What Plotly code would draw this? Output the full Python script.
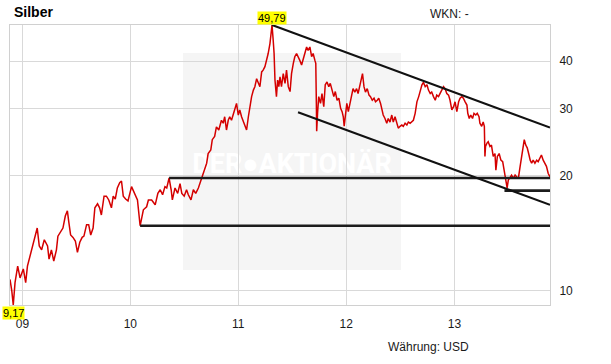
import math
import plotly.graph_objects as go

# ---------------- data ----------------
dates = [
 "2008-11-20","2008-11-26","2008-12-01","2008-12-07","2008-12-16","2008-12-24",
 "2009-01-04","2009-01-12","2009-01-18","2009-01-26","2009-02-03","2009-02-12","2009-02-20","2009-02-27",
 "2009-03-07","2009-03-16","2009-03-27","2009-04-01","2009-04-09","2009-04-17","2009-04-26",
 "2009-05-01","2009-05-10","2009-05-18","2009-05-26","2009-06-02","2009-06-07","2009-06-13","2009-06-21","2009-06-29",
 "2009-07-06","2009-07-14","2009-07-22","2009-07-28","2009-08-06","2009-08-13","2009-08-20","2009-08-28",
 "2009-09-03","2009-09-12","2009-09-19","2009-09-25","2009-10-04","2009-10-12","2009-10-20","2009-10-29",
 "2009-11-04","2009-11-11","2009-11-18","2009-11-26","2009-12-02","2009-12-08","2009-12-16","2009-12-24",
 "2010-01-05","2010-01-15","2010-01-25","2010-02-03","2010-02-10","2010-02-14","2010-02-25",
 "2010-03-03","2010-03-14","2010-03-26","2010-04-04","2010-04-12","2010-04-20","2010-04-28",
 "2010-05-04","2010-05-12","2010-05-19","2010-05-23","2010-06-01","2010-06-10","2010-06-18","2010-06-24",
 "2010-07-02","2010-07-10","2010-07-16","2010-07-25","2010-08-02","2010-08-10","2010-08-19","2010-08-24",
 "2010-09-01","2010-09-10","2010-09-16","2010-09-21","2010-09-30","2010-10-05","2010-10-13","2010-10-19","2010-10-27",
 "2010-11-05","2010-11-11","2010-11-16","2010-11-22","2010-11-28","2010-12-03","2010-12-09","2010-12-20","2010-12-26",
 "2011-01-01","2011-01-06","2011-01-12","2011-01-17","2011-01-23","2011-01-29","2011-02-04","2011-02-09",
 "2011-02-15","2011-02-21","2011-02-26","2011-03-04","2011-03-09","2011-03-15","2011-03-21","2011-03-26",
 "2011-04-01","2011-04-07","2011-04-12","2011-04-18","2011-04-23","2011-04-25","2011-04-29",
 "2011-05-02","2011-05-05","2011-05-08","2011-05-10","2011-05-14","2011-05-18","2011-05-22","2011-05-27",
 "2011-06-02","2011-06-08","2011-06-13","2011-06-19","2011-06-25","2011-06-30","2011-07-06","2011-07-11",
 "2011-07-17","2011-07-23","2011-07-28","2011-08-03","2011-08-09","2011-08-14","2011-08-20","2011-08-25",
 "2011-08-31","2011-09-06","2011-09-11","2011-09-17","2011-09-20","2011-09-22","2011-09-23","2011-09-26",
 "2011-09-30","2011-10-06","2011-10-11","2011-10-17","2011-10-22","2011-10-28","2011-11-03","2011-11-08",
 "2011-11-14","2011-11-20","2011-11-25","2011-12-01","2011-12-07","2011-12-13","2011-12-18","2011-12-22",
 "2011-12-25","2011-12-30","2012-01-03","2012-01-08","2012-01-13","2012-01-19","2012-01-24","2012-01-30",
 "2012-02-05","2012-02-10","2012-02-16","2012-02-21","2012-02-25","2012-03-01","2012-03-06","2012-03-12",
 "2012-03-18","2012-03-23","2012-03-29","2012-04-04","2012-04-09","2012-04-15","2012-04-20","2012-04-26",
 "2012-05-02","2012-05-05","2012-05-11","2012-05-17","2012-05-22","2012-05-28","2012-06-03","2012-06-08",
 "2012-06-14","2012-06-20","2012-06-25","2012-07-01","2012-07-07","2012-07-12","2012-07-18","2012-07-24",
 "2012-07-29","2012-08-04","2012-08-10","2012-08-15","2012-08-21","2012-08-27","2012-09-02","2012-09-07",
 "2012-09-13","2012-09-18","2012-09-24","2012-09-30","2012-10-05","2012-10-11","2012-10-16","2012-10-22",
 "2012-10-28","2012-11-02","2012-11-08","2012-11-13","2012-11-19","2012-11-25","2012-11-30","2012-12-06",
 "2012-12-12","2012-12-17","2012-12-23","2012-12-29","2013-01-03","2013-01-09","2013-01-15","2013-01-20",
 "2013-01-26","2013-01-31","2013-02-06","2013-02-12","2013-02-15","2013-02-20","2013-02-25","2013-03-03",
 "2013-03-08","2013-03-14","2013-03-19","2013-03-25","2013-03-28","2013-04-03","2013-04-08","2013-04-12",
 "2013-04-14","2013-04-16","2013-04-21","2013-04-25","2013-05-01","2013-05-06","2013-05-12","2013-05-18",
 "2013-05-21","2013-05-26","2013-06-01","2013-06-07","2013-06-13","2013-06-18","2013-06-21","2013-06-24",
 "2013-06-28","2013-07-02","2013-07-08","2013-07-13","2013-07-19","2013-07-25","2013-07-30","2013-08-05",
 "2013-08-11","2013-08-16","2013-08-22","2013-08-25","2013-08-30","2013-09-04","2013-09-10","2013-09-14",
 "2013-09-19","2013-09-24","2013-09-30","2013-10-06","2013-10-11","2013-10-17","2013-10-22","2013-10-28",
 "2013-11-03","2013-11-08","2013-11-14","2013-11-20",
]
prices = [
 10.7,10.0,9.17,10.5,11.6,10.8,
 11.4,10.5,11.6,12.3,12.8,13.9,14.6,13.1,
 12.8,13.6,13.1,12.1,12.8,11.95,12.8,
 13.9,14.3,14.6,15.7,16.2,15.1,14.0,13.8,13.5,
 12.6,13.4,13.8,13.9,14.9,14.9,14.0,14.6,
 16.5,16.9,16.5,15.8,17.7,17.7,17.3,16.5,
 17.7,17.4,18.6,19.2,19.4,17.7,17.4,17.2,
 18.75,18.0,17.3,14.8,15.7,16.3,16.6,
 17.3,17.3,16.8,18.0,18.4,17.85,18.75,
 18.6,19.75,18.4,17.3,18.6,18.0,19.1,18.0,
 17.7,18.4,17.85,17.3,18.4,18.0,18.6,19.1,
 19.9,20.7,21.6,22.9,23.4,24.9,25.4,26.9,26.4,
 28.0,27.5,28.6,26.4,28.0,28.6,28.0,29.8,31.0,
 28.9,29.8,28.6,28.0,27.0,26.4,28.6,30.4,
 32.3,33.6,34.3,36.0,35.3,34.3,37.5,37.9,
 38.7,40.2,41.9,44.5,48.2,49.79,45.4,
 41.9,35.7,33.6,32.3,35.7,34.3,36.4,34.3,
 37.1,35.0,37.9,34.3,33.3,37.1,39.5,41.1,
 41.9,41.1,40.2,39.1,40.6,42.3,43.6,42.7,
 43.6,41.1,41.9,40.2,39.5,31.0,26.2,29.2,
 32.3,31.0,32.9,30.4,34.7,35.3,34.3,35.0,
 33.3,32.3,33.3,31.6,32.0,30.1,29.5,28.6,
 27.0,29.8,31.0,29.5,31.0,32.3,33.9,33.2,
 33.9,32.9,34.3,35.7,37.1,34.3,33.2,33.9,
 32.6,32.3,31.6,32.0,31.3,31.6,32.0,31.0,
 29.8,28.9,28.3,27.5,28.3,27.7,28.9,27.7,
 28.6,27.5,26.7,27.0,27.2,27.0,27.5,27.2,
 27.7,27.5,27.7,28.0,29.2,31.3,32.3,33.6,
 34.7,35.2,34.3,34.7,33.6,32.9,33.2,32.3,
 31.6,32.6,32.3,32.9,33.6,34.3,33.9,32.9,
 32.6,31.6,29.8,30.4,31.3,29.5,31.3,32.0,
 32.3,32.0,31.3,30.7,29.2,28.3,28.9,28.3,
 29.2,28.9,29.2,28.6,27.5,27.0,27.7,27.0,
 22.5,23.9,24.4,24.6,23.9,24.1,22.5,22.9,
 20.7,22.5,22.9,22.0,21.8,20.7,19.9,19.1,
 18.6,19.5,19.9,20.1,19.7,20.1,19.9,19.7,
 21.2,22.5,23.9,24.9,24.1,23.7,22.7,22.0,
 21.6,22.0,21.6,22.0,21.8,22.2,22.7,22.0,
 21.6,21.2,20.3,19.9,
]

x_ticks = ["2009-01-01", "2010-01-01", "2011-01-01", "2012-01-01", "2013-01-01"]
x_tick_labels = ["09", "10", "11", "12", "13"]
y_ticks = [10, 20, 30, 40]

# horizontal support lines: level, start date
support_levels = [19.75, 14.8, 18.3]
support_starts = ["2010-05-12", "2010-02-03", "2013-06-19"]
line_end = "2013-11-20"

# falling channel lines: (start date, start value, end value)
trend_starts = ["2011-04-25", "2011-07-22"]
trend_start_vals = [49.79, 29.4]
trend_end_vals = [26.8, 16.8]

x_range = ["2008-11-20", "2013-11-20"]

# ---------------- figure ----------------
fig = go.Figure()

fig.add_trace(go.Scatter(x=dates, y=prices, mode="lines",
                         line=dict(color="#d40000", width=1.5),
                         hoverinfo="skip", showlegend=False))

for lvl, st in zip(support_levels, support_starts):
    fig.add_trace(go.Scatter(x=[st, line_end], y=[lvl, lvl], mode="lines",
                             line=dict(color="#1c1c1c", width=2.6),
                             hoverinfo="skip", showlegend=False))

for st, v0, v1 in zip(trend_starts, trend_start_vals, trend_end_vals):
    fig.add_trace(go.Scatter(x=[st, line_end], y=[v0, v1], mode="lines",
                             line=dict(color="#111111", width=2.1),
                             hoverinfo="skip", showlegend=False))

imax = prices.index(max(prices))
imin = prices.index(min(prices))
lab_font = dict(family="Liberation Sans, Arial, sans-serif", size=11, color="#000000")

fig.add_annotation(x=dates[imax], y=math.log10(prices[imax]), xref="x", yref="y",
                   text=f"{prices[imax]:.2f}".replace(".", ","), showarrow=False,
                   yanchor="bottom", xanchor="center", bgcolor="#ffff00",
                   font=lab_font, borderpad=0)
fig.add_annotation(x=dates[imin], y=math.log10(prices[imin]), xref="x", yref="y",
                   text=f"{prices[imin]:.2f}".replace(".", ","), showarrow=False,
                   yanchor="top", xanchor="center", bgcolor="#ffff00",
                   font=lab_font, borderpad=0, yshift=-1)

txt_font = dict(family="Liberation Sans, Arial, sans-serif", size=12, color="#1a1a1a")
fig.add_annotation(x=0.0037, y=1.0464, xref="paper", yref="paper", text="<b>Silber</b>",
                   showarrow=False, xanchor="left", yanchor="middle",
                   font=dict(family="Liberation Sans, Arial, sans-serif", size=14, color="#000000"))
fig.add_annotation(x=0.774, y=1.039, xref="paper", yref="paper", text="WKN: -",
                   showarrow=False, xanchor="left", yanchor="middle", font=txt_font)
fig.add_annotation(x=0.696, y=-0.15, xref="paper", yref="paper", text="Währung: USD",
                   showarrow=False, xanchor="left", yanchor="middle", font=txt_font)

# watermark
fig.add_shape(type="rect", xref="paper", yref="paper", x0=0.3204, x1=0.7241, y0=0.125, y1=0.9,
              fillcolor="#f5f5f5", line=dict(width=0), layer="below",
              label=dict(text="DER●AKTIONÄR", textposition="middle center",
                         font=dict(family="Roboto, sans-serif", size=27, color="#ffffff",
                                   weight="bold")))

fig.update_layout(
    width=611, height=364,
    margin=dict(l=10, r=61, t=25, b=59),
    paper_bgcolor="#ffffff", plot_bgcolor="#ffffff",
    showlegend=False, hovermode=False,
    font=txt_font,
)
fig.update_xaxes(type="date", range=x_range, tickvals=x_ticks, ticktext=x_tick_labels,
                 showgrid=True, gridcolor="#d9d9d9", gridwidth=1,
                 showline=True, mirror=True, linecolor="#d0d0d0", linewidth=1,
                 ticks="", ticklabelstandoff=8, zeroline=False,
                 tickfont=txt_font)
fig.update_yaxes(type="log", side="right",
                 range=[math.log10(min(prices)), math.log10(max(prices))],
                 tickvals=y_ticks, ticktext=[str(v) for v in y_ticks],
                 showgrid=True, gridcolor="#d9d9d9", gridwidth=1,
                 showline=True, mirror=True, linecolor="#d0d0d0", linewidth=1,
                 ticks="", ticklabelstandoff=6, zeroline=False,
                 tickfont=txt_font)

fig.write_html("out.html",
               config={"displayModeBar": False, "staticPlot": True},
               post_script="document.body.style.margin='0';document.body.style.padding='0';"
                           "document.documentElement.style.overflow='hidden';")
